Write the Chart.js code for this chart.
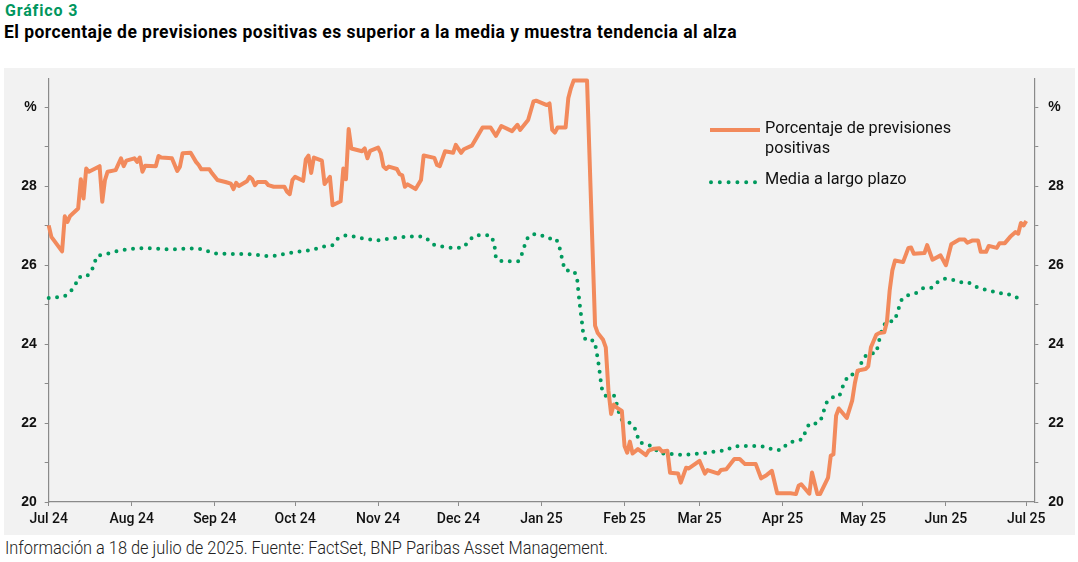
<!DOCTYPE html>
<html lang="es">
<head>
<meta charset="utf-8">
<script src="https://cdn.jsdelivr.net/npm/chart.js@4.4.1/dist/chart.umd.min.js"></script>
<style>
  html, body { margin: 0; padding: 0; background: #fff; }
  body { width: 1078px; height: 562px; position: relative; overflow: hidden; font-family: Roboto, sans-serif; }
  #titulo { position: absolute; left: 5px; top: 1px; font-weight: 700; font-size: 16px; color: #00965e; white-space: nowrap; }
  #subtitulo { position: absolute; left: 4px; top: 22px; font-weight: 700; font-size: 17.5px; color: #000; white-space: nowrap; }
  #caja { position: absolute; left: 4px; top: 68px; width: 1071px; height: 467px; background: #f2f2f2; }
  #fuente { position: absolute; left: 5px; top: 537px; font-weight: 300; font-size: 18px; color: #222; white-space: nowrap; transform-origin: left top; }
</style>
</head>
<body>
<div id="titulo">Gráfico 3</div>
<div id="subtitulo">El porcentaje de previsiones positivas es superior a la media y muestra tendencia al alza</div>
<div id="caja"><canvas id="grafico" width="1071" height="467"></canvas></div>
<div id="fuente">Información a 18 de julio de 2025. Fuente: FactSet, BNP Paribas Asset Management.</div>

<script>
//---------------------------------------------------------------------
// DATOS (eje X en días desde el 1 de julio de 2024)
//---------------------------------------------------------------------
const diasMes = [0, 31, 62, 92, 123, 153, 184, 215, 243, 274, 304, 335, 365];
const etiquetasMes = ['Jul 24', 'Aug 24', 'Sep 24', 'Oct 24', 'Nov 24', 'Dec 24', 'Jan 25',
                      'Feb 25', 'Mar 25', 'Apr 25', 'May 25', 'Jun 25', 'Jul 25'];
const ticksY = [20, 21, 22, 23, 24, 25, 26, 27, 28, 29, 30];

const diasPrevisiones = [0, 1, 5, 6, 7, 8, 11, 12, 13, 14, 15, 19, 20, 21, 22, 25, 27, 28, 29, 32,
    33, 34, 35, 36, 40, 41, 42, 46, 48, 49, 50, 53, 55, 56, 57, 60, 61, 63, 66, 68,
    69, 70, 71, 74, 75, 76, 77, 78, 81, 82, 84, 88, 89, 90, 91, 92, 95, 96, 97, 98,
    99, 102, 103, 105, 106, 109, 110, 111, 112, 113, 117, 118, 119, 120, 123, 124, 125, 126, 127, 130,
    131, 132, 133, 134, 137, 139, 140, 144, 145, 146, 148, 151, 152, 154, 155, 158, 160, 162, 165, 167,
    169, 173, 175, 176, 179, 181, 182, 186, 187, 188, 189, 190, 193, 194, 195, 196, 201, 204, 205, 207,
    208, 209, 210, 211, 212, 214, 215, 216, 217, 218, 220, 223, 224, 226, 228, 229, 231, 232, 235, 236,
    238, 239, 243, 245, 246, 250, 251, 253, 256, 258, 260, 264, 266, 268, 270, 272, 277, 279, 280, 281,
    284, 285, 287, 288, 291, 292, 293, 294, 295, 298, 300, 301, 302, 305, 306, 307, 309, 310, 312, 313,
    314, 315, 316, 319, 321, 322, 323, 327, 328, 330, 333, 335, 337, 340, 342, 343, 345, 347, 348, 350,
    351, 354, 355, 357, 359, 361, 362, 363, 364, 365];
const valoresPrevisiones = [27.01, 26.72, 26.35, 27.24, 27.10, 27.25, 27.44, 28.18, 27.69, 28.45, 28.37, 28.51, 27.61, 28.16, 28.37, 28.41, 28.71, 28.51, 28.65, 28.71,
    28.62, 28.73, 28.37, 28.52, 28.51, 28.77, 28.73, 28.71, 28.39, 28.50, 28.84, 28.85, 28.62, 28.54, 28.43, 28.43, 28.33, 28.16, 28.11, 28.07,
    27.93, 28.09, 28.01, 28.13, 28.24, 28.18, 28.03, 28.11, 28.11, 28.03, 27.99, 27.99, 27.86, 27.80, 28.16, 28.24, 28.14, 28.68, 28.78, 28.34,
    28.73, 28.65, 28.06, 28.24, 27.52, 27.62, 28.45, 28.18, 29.45, 28.96, 28.89, 28.96, 28.71, 28.90, 28.98, 28.84, 28.50, 28.44, 28.50, 28.44,
    28.31, 28.28, 27.99, 28.05, 27.93, 28.16, 28.78, 28.72, 28.54, 28.51, 28.89, 28.85, 29.05, 28.85, 28.94, 29.03, 29.26, 29.49, 29.49, 29.28,
    29.53, 29.40, 29.56, 29.43, 29.68, 30.15, 30.17, 30.06, 30.10, 29.43, 29.36, 29.49, 29.49, 30.23, 30.49, 30.68, 30.68, 24.47, 24.28, 24.11,
    23.92, 22.82, 22.23, 22.47, 22.40, 22.31, 21.42, 21.25, 21.53, 21.23, 21.34, 21.19, 21.30, 21.35, 21.36, 21.28, 21.30, 20.74, 20.72, 20.49,
    20.87, 20.85, 21.04, 20.72, 20.81, 20.72, 20.81, 20.83, 21.09, 21.09, 20.96, 20.96, 20.60, 20.68, 20.79, 20.22, 20.22, 20.20, 20.41, 20.45,
    20.21, 20.75, 20.20, 20.20, 20.62, 21.17, 21.21, 22.19, 22.37, 22.13, 22.57, 23.01, 23.33, 23.37, 23.44, 23.92, 24.24, 24.28, 24.30, 24.58,
    25.36, 25.87, 26.12, 26.08, 26.44, 26.45, 26.29, 26.31, 26.51, 26.14, 26.25, 26.00, 26.53, 26.65, 26.65, 26.57, 26.63, 26.63, 26.34, 26.34,
    26.49, 26.44, 26.56, 26.56, 26.72, 26.84, 26.80, 27.07, 27.01, 27.12];

const diasMedia = [0, 3, 6, 8, 10, 11, 14, 16, 17, 18, 21, 24, 27, 33, 39, 45, 55, 58, 61, 64,
    76, 82, 85, 88, 94, 98, 103, 106, 108, 111, 114, 117, 123, 129, 135, 139, 141, 143, 146, 152,
    155, 157, 159, 165, 166.2, 166.7, 167, 169.2, 175.4, 176.6, 177.6, 178.7, 180.4, 183.5, 186.3, 189.4, 190.5, 191.3, 191.9, 192.8,
    195.8, 197.2, 197.8, 198.5, 199.3, 199.6, 200.6, 203.7, 204.4, 205.4, 206.2, 206.7, 208, 211.1, 212.1, 212.9, 214, 216.4, 218.6, 219.6,
    220.5, 223.3, 226, 227.9, 231, 234.1, 237.2, 240.3, 243.5, 246.6, 249.6, 252.7, 255.4, 258.4, 264.6, 267.7, 270.6, 273.7, 275.8, 278.7,
    281.4, 282.6, 284, 287.1, 288.6, 289.5, 290.5, 292.4, 295.2, 296.2, 297.4, 298.9, 301.9, 302.9, 304.2, 306, 308.9, 309.7, 310.4, 311.3,
    312.7, 315.6, 316.6, 317.6, 318.6, 320.9, 323.7, 326.4, 329.4, 331.6, 334.1, 337.2, 340.3, 343.4, 345.9, 348.8, 351.5, 354.6, 357.7, 360.4,
    363.5];
const valoresMedia = [25.17, 25.19, 25.22, 25.32, 25.51, 25.70, 25.70, 25.85, 26.04, 26.24, 26.27, 26.33, 26.38, 26.43, 26.43, 26.40, 26.43, 26.40, 26.31, 26.29,
    26.28, 26.23, 26.24, 26.29, 26.35, 26.38, 26.48, 26.51, 26.68, 26.76, 26.73, 26.68, 26.63, 26.69, 26.73, 26.73, 26.69, 26.54, 26.48, 26.43,
    26.46, 26.63, 26.76, 26.76, 26.59, 26.38, 26.17, 26.10, 26.10, 26.27, 26.48, 26.68, 26.79, 26.78, 26.68, 26.68, 26.51, 26.29, 26.08, 25.87,
    25.87, 25.74, 25.30, 24.88, 24.45, 24.24, 24.09, 24.09, 23.88, 23.46, 23.03, 22.82, 22.69, 22.69, 22.48, 22.27, 22.08, 22.03, 21.91, 21.72,
    21.51, 21.47, 21.38, 21.23, 21.23, 21.20, 21.19, 21.21, 21.23, 21.25, 21.30, 21.30, 21.40, 21.42, 21.42, 21.40, 21.32, 21.32, 21.48, 21.55,
    21.59, 21.79, 21.99, 21.99, 22.13, 22.33, 22.52, 22.65, 22.68, 22.88, 23.07, 23.23, 23.24, 23.44, 23.65, 23.77, 23.77, 23.98, 24.19, 24.40,
    24.58, 24.58, 24.74, 24.96, 25.15, 25.24, 25.29, 25.42, 25.42, 25.56, 25.66, 25.64, 25.57, 25.57, 25.46, 25.39, 25.36, 25.29, 25.29, 25.19,
    25.16];

//---------------------------------------------------------------------
// ESTILOS
//---------------------------------------------------------------------
const naranja = '#f28a5c';
const verde = '#009a5e';
const gris = '#8a8a8a';
const fuenteTicks = { family: 'Roboto', size: 14, weight: '500' };

// Ajustar los textos de cabecera y pie al ancho del original
function ajustarEspaciado(id, ancho) {
    const el = document.getElementById(id);
    const w = el.getBoundingClientRect().width;
    el.style.letterSpacing = ((ancho - w) / el.textContent.length) + 'px';
}
function ajustarEscala(id, ancho) {
    const el = document.getElementById(id);
    const w = el.getBoundingClientRect().width;
    el.style.transform = 'scaleX(' + (ancho / w) + ')';
}
ajustarEspaciado('titulo', 73);
ajustarEspaciado('subtitulo', 733);
ajustarEscala('fuente', 603);

// Leyenda dibujada a mano dentro del gráfico
const leyenda = {
    id: 'leyenda',
    afterDraw(chart) {
        const ctx = chart.ctx;
        const ds = chart.data.datasets;
        ctx.save();
        ctx.strokeStyle = ds[0].borderColor;
        ctx.lineWidth = ds[0].borderWidth;
        ctx.beginPath();
        ctx.moveTo(706, 62);
        ctx.lineTo(756, 62);
        ctx.stroke();

        ctx.strokeStyle = ds[1].borderColor;
        ctx.lineWidth = ds[1].borderWidth;
        ctx.lineCap = 'round';
        ctx.setLineDash([0, 8.8]);
        ctx.beginPath();
        ctx.moveTo(707, 114.3);
        ctx.lineTo(752, 114.3);
        ctx.stroke();
        ctx.setLineDash([]);

        ctx.fillStyle = '#111';
        ctx.font = '16.3px Roboto';
        ctx.textBaseline = 'middle';
        ctx.fillText('Porcentaje de previsiones', 761, 60.5);
        ctx.fillText('positivas', 761, 80.5);
        ctx.fillText('Media a largo plazo', 761, 111.5);
        ctx.restore();
    }
};

function ejeY(posicion, ancho, separacion) {
    return {
        type: 'linear',
        position: posicion,
        min: 20,
        max: 30.72,
        afterBuildTicks: (scale) => { scale.ticks = ticksY.map(v => ({ value: v })); },
        afterFit: (scale) => {
            scale.width = ancho;
            scale.paddingTop = 0;
            scale.paddingBottom = 0;
        },
        ticks: {
            color: '#111',
            padding: separacion,
            font: { family: 'Liberation Sans', size: 14, weight: 'bold' },
            callback: (v) => v === 30 ? '%' : (v % 2 === 0 ? v : '')
        },
        grid: { drawOnChartArea: false, tickLength: 4, color: gris },
        border: { color: gris, width: 1.2 }
    };
}

new Chart(document.getElementById('grafico'), {
    type: 'line',
    data: {
        datasets: [
            {
                label: 'Porcentaje de previsiones positivas',
                data: diasPrevisiones.map((d, i) => ({ x: d, y: valoresPrevisiones[i] })),
                borderColor: naranja,
                borderWidth: 4,
                borderJoinStyle: 'round',
                pointRadius: 0,
                tension: 0,
                clip: false
            },
            {
                label: 'Media a largo plazo',
                data: diasMedia.map((d, i) => ({ x: d, y: valoresMedia[i] })),
                borderColor: verde,
                borderWidth: 4,
                borderDash: [0, 8.4],
                borderCapStyle: 'round',
                pointRadius: 0,
                tension: 0,
                clip: false
            }
        ]
    },
    options: {
        responsive: false,
        animation: false,
        layout: { padding: { top: 11, left: 0, right: 0, bottom: 0 } },
        plugins: { legend: { display: false }, tooltip: { enabled: false } },
        scales: {
            x: {
                type: 'linear',
                min: 0,
                max: 368,
                afterBuildTicks: (scale) => { scale.ticks = diasMes.map(v => ({ value: v })); },
                afterFit: (scale) => { scale.height = 33; },
                ticks: {
                    color: '#111',
                    padding: 5,
                    maxRotation: 0,
                    autoSkip: false,
                    font: fuenteTicks,
                    callback: (v, i) => etiquetasMes[i]
                },
                grid: { drawOnChartArea: false, tickLength: 4, color: gris },
                border: { color: gris, width: 1.2 }
            },
            y: ejeY('left', 44.7, 8),
            y2: ejeY('right', 40.7, 10)
        }
    },
    plugins: [leyenda]
});
</script>
</body>
</html>
